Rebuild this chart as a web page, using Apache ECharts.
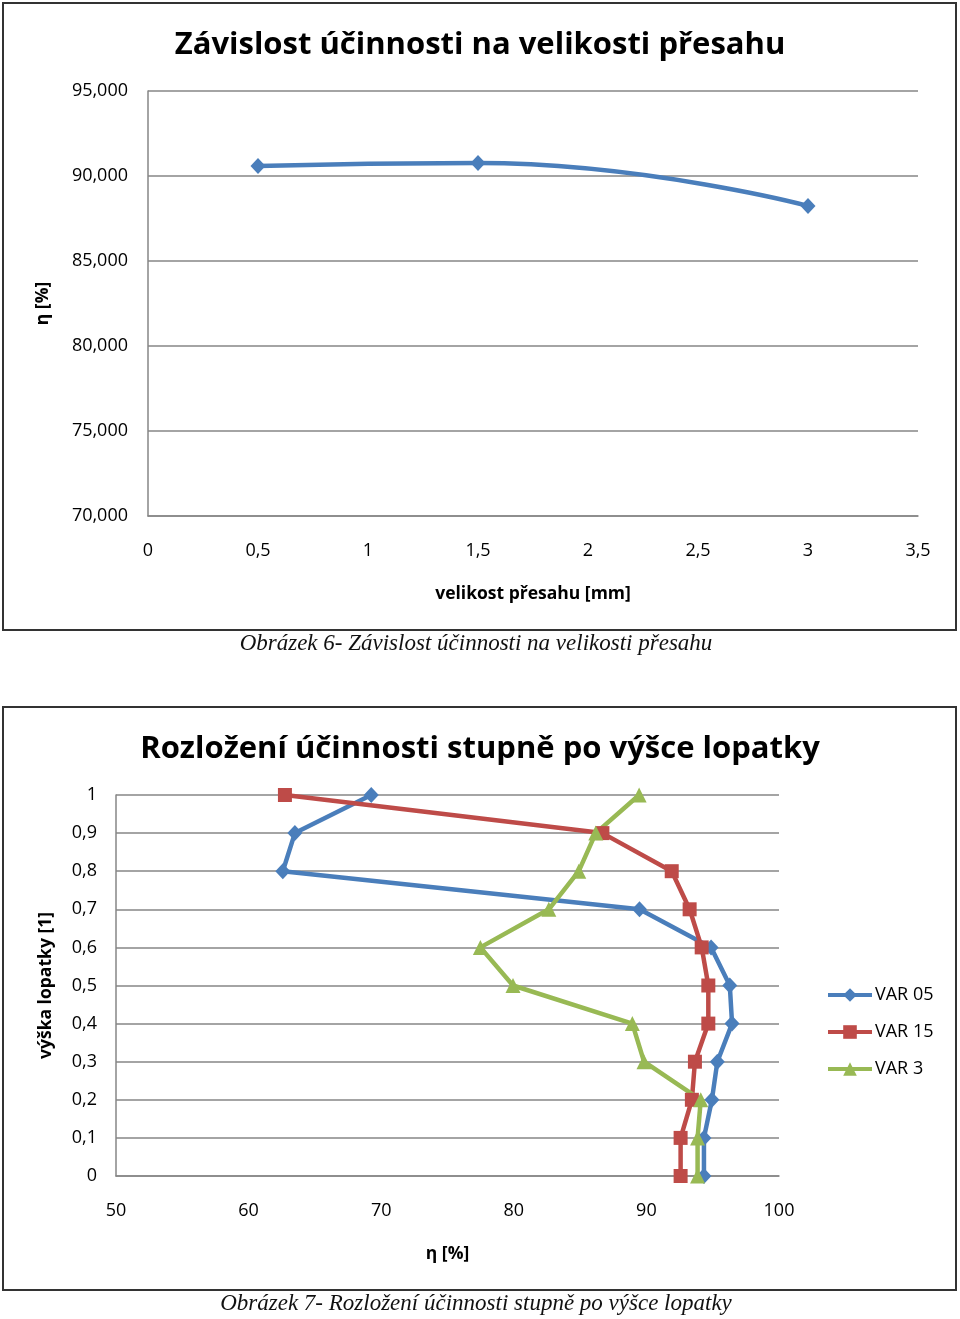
<!DOCTYPE html>
<html>
<head>
<meta charset="utf-8">
<script src="https://cdn.jsdelivr.net/npm/echarts@6/dist/echarts.min.js"></script>
<style>
html,body{margin:0;padding:0;background:#fff;}
#c{width:960px;height:1319px;}
</style>
</head>
<body>
<div id="c"></div>
<script>
// ---- Chart 1 data ----
const title1 = 'Závislost účinnosti na velikosti přesahu';
const caption1 = 'Obrázek 6- Závislost účinnosti na velikosti přesahu';
const overlapMm = [0.5, 1.5, 3];
const efficiency = [90.59, 90.76, 88.24];
const xName1 = 'velikost přesahu [mm]';
const yName1 = 'η [%]';

// ---- Chart 2 data ----
const title2 = 'Rozložení účinnosti stupně po výšce lopatky';
const caption2 = 'Obrázek 7- Rozložení účinnosti stupně po výšce lopatky';
const bladeHeight = [1, 0.9, 0.8, 0.7, 0.6, 0.5, 0.4, 0.3, 0.2, 0.1, 0];
const seriesNames = ['VAR 05', 'VAR 15', 'VAR 3'];
const var05 = [69.25, 63.49, 62.58, 89.48, 94.88, 96.29, 96.46, 95.35, 94.94, 94.34, 94.34];
const var15 = [62.74, 86.68, 91.91, 93.26, 94.17, 94.67, 94.67, 93.66, 93.43, 92.58, 92.58];
const var3  = [89.45, 86.18, 84.90, 82.64, 77.48, 79.94, 88.94, 89.82, 94.10, 93.86, 93.86];
const xName2 = 'η [%]';
const yName2 = 'výška lopatky [1]';

const FONT = '"Open Sans", sans-serif';
const GRID_C = '#868686';
const colors = ['#4A7EBB', '#BE4B48', '#98B954'];

const chart = echarts.init(document.getElementById('c'), null, {renderer: 'canvas'});

function comma(v, d) {
  return (d == null ? String(v) : v.toFixed(d)).replace('.', ',');
}

const axisLabel = {color: '#000', fontFamily: FONT, fontSize: 18};
const nameStyle = {color: '#000', fontFamily: FONT, fontSize: 17.5, fontWeight: 'bold'};

const pair = (xs) => xs.map((v, i) => [v, bladeHeight[i]]);

const option = {
  animation: false,
  backgroundColor: '#fff',
  title: [
    {text: title1, left: 'center', top: 19,
     textStyle: {fontFamily: FONT, fontSize: 31, fontWeight: 'bold', color: '#000', lineHeight: 42}},
    {text: title2, left: 'center', top: 723,
     textStyle: {fontFamily: FONT, fontSize: 31, fontWeight: 'bold', color: '#000', lineHeight: 42}}
  ],
  grid: [
    {left: 148, top: 91, width: 770, height: 425},
    {left: 116, top: 795, width: 663, height: 381}
  ],
  xAxis: [
    {gridIndex: 0, type: 'value', min: 0, max: 3.5, interval: 0.5,
     name: xName1, nameLocation: 'middle', nameGap: 69, nameTextStyle: nameStyle,
     axisLine: {show: true, lineStyle: {color: GRID_C, width: 1.5}},
     axisTick: {show: false}, splitLine: {show: false},
     axisLabel: Object.assign({margin: 26, formatter: v => comma(v)}, axisLabel)},
    {gridIndex: 1, type: 'value', min: 50, max: 100, interval: 10,
     name: xName2, nameLocation: 'middle', nameGap: 69, nameTextStyle: nameStyle,
     axisLine: {show: true, onZero: false, lineStyle: {color: GRID_C, width: 1.5}},
     axisTick: {show: false}, splitLine: {show: false},
     axisLabel: Object.assign({margin: 26, formatter: v => comma(v)}, axisLabel)}
  ],
  yAxis: [
    {gridIndex: 0, type: 'value', min: 70, max: 95, interval: 5,
     name: yName1, nameLocation: 'middle', nameGap: 96, nameTextStyle: nameStyle,
     axisLine: {show: true, lineStyle: {color: GRID_C, width: 1.5}},
     axisTick: {show: false},
     splitLine: {show: true, lineStyle: {color: GRID_C, width: 1.5}},
     axisLabel: Object.assign({margin: 20, formatter: v => comma(v, 3), padding: [6, 0, 0, 0]}, axisLabel)},
    {gridIndex: 1, type: 'value', min: 0, max: 1, interval: 0.1,
     name: yName2, nameLocation: 'middle', nameGap: 61, nameTextStyle: nameStyle,
     axisLine: {show: true, onZero: false, lineStyle: {color: GRID_C, width: 1.5}},
     axisTick: {show: false},
     splitLine: {show: true, lineStyle: {color: GRID_C, width: 1.5}},
     axisLabel: Object.assign({margin: 19, formatter: v => comma(Math.round(v * 10) / 10), padding: [5, 0, 0, 0]}, axisLabel)}
  ],
  legend: {
    orient: 'vertical', left: 826, top: 986, padding: 0,
    itemWidth: 44, itemHeight: 17, itemGap: 19,
    data: seriesNames,
    lineStyle: {width: 4},
    textStyle: {fontFamily: FONT, fontSize: 18, color: '#000', lineHeight: 18, padding: [0, 0, 0, -2]}
  },
  series: [
    {name: 'η', type: 'line', xAxisIndex: 0, yAxisIndex: 0,
     data: overlapMm.map((v, i) => [v, efficiency[i]]),
     smooth: 0.5, symbol: 'diamond', symbolSize: [15, 16],
     lineStyle: {color: colors[0], width: 4.5}, itemStyle: {color: colors[0]}},
    {name: seriesNames[0], type: 'line', xAxisIndex: 1, yAxisIndex: 1,
     data: pair(var05), symbol: 'diamond', symbolSize: [15, 16],
     lineStyle: {color: colors[0], width: 4.5}, itemStyle: {color: colors[0]}},
    {name: seriesNames[1], type: 'line', xAxisIndex: 1, yAxisIndex: 1,
     data: pair(var15), symbol: 'rect', symbolSize: 14,
     lineStyle: {color: colors[1], width: 4.5}, itemStyle: {color: colors[1]}},
    {name: seriesNames[2], type: 'line', xAxisIndex: 1, yAxisIndex: 1,
     data: pair(var3), symbol: 'triangle', symbolSize: 15,
     lineStyle: {color: colors[2], width: 4.5}, itemStyle: {color: colors[2]}}
  ],
  graphic: [
    {type: 'rect', shape: {x: 3, y: 3, width: 953, height: 627},
     style: {fill: null, stroke: '#333', lineWidth: 2}, silent: true},
    {type: 'rect', shape: {x: 3, y: 707, width: 953, height: 583},
     style: {fill: null, stroke: '#333', lineWidth: 2}, silent: true},
    {type: 'text', x: 476, y: 644,
     style: {text: caption1, font: 'italic 23px "Liberation Serif", serif', fill: '#111',
             textAlign: 'center', textVerticalAlign: 'middle'}},
    {type: 'text', x: 476, y: 1304,
     style: {text: caption2, font: 'italic 23px "Liberation Serif", serif', fill: '#111',
             textAlign: 'center', textVerticalAlign: 'middle'}}
  ]
};

chart.setOption(option);
</script>
</body>
</html>
